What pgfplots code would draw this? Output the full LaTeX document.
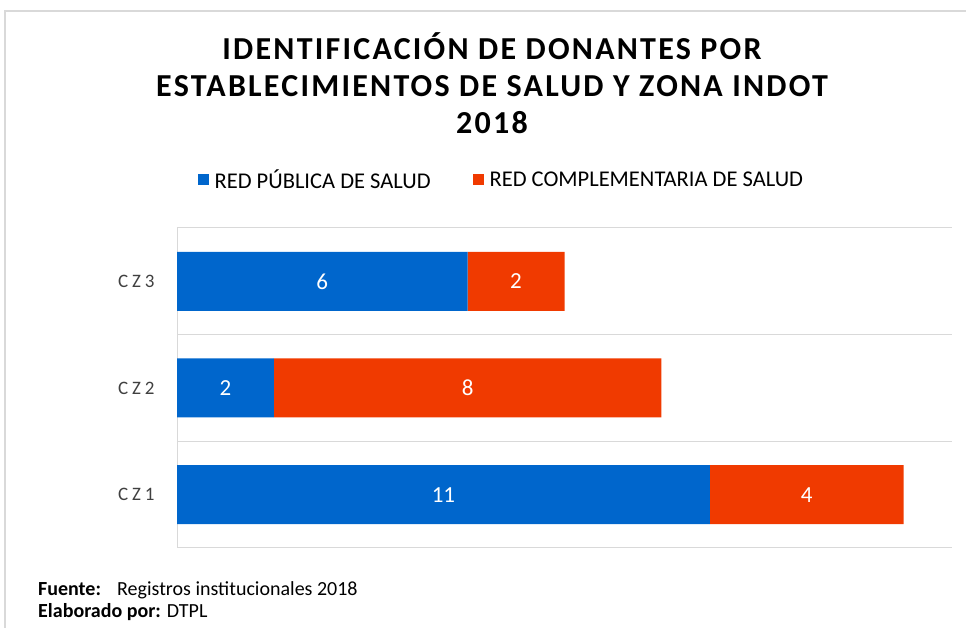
\documentclass[border=0pt]{standalone}
\usepackage{pgfplots}
\pgfplotsset{compat=1.18}
\usepackage{pgfplotstable}
\usepackage{fontspec}
\setmainfont{Carlito}
\definecolor{cblue}{RGB}{0,102,204}
\definecolor{corange}{RGB}{240,58,0}
\definecolor{gridgray}{RGB}{217,217,217}
\definecolor{labgray}{RGB}{64,64,64}

% values per zone: y = 0 (CZ1), 1 (CZ2), 2 (CZ3)
\pgfplotstableread{
y v
0 11
1 2
2 6
}\publica
\pgfplotstableread{
y v
0 4
1 8
2 2
}\complementaria
% label positions (centre of each segment) and label text
\pgfplotstableread{
x y lab
5.5 0 11
1 1 2
3 2 6
13 0 4
6 1 8
7 2 2
}\labels

\pgfplotsset{common/.style={
  at={(177pt,80pt)}, anchor=south west, scale only axis,
  width=775pt, height=320pt,
  xmin=0, xmax=16, ymin=-0.5, ymax=2.5,
}}

\begin{document}
\begin{tikzpicture}[x=1pt,y=1pt]
\path[use as bounding box] (0,0) rectangle (966,628);
\draw[gridgray, line width=1.5pt] (5,0) -- (5,617) -- (966,617);
\begin{scope}[font=\fontsize{32}{36}\selectfont\bfseries\addfontfeatures{LetterSpace=7}]
\node[anchor=base] at (492,568) {IDENTIFICACIÓN DE DONANTES POR};
\node[anchor=base] at (492,531) {ESTABLECIMIENTOS DE SALUD Y ZONA INDOT};
\node[anchor=base] at (492,494) {2018};
\end{scope}
\node[anchor=base west, inner sep=0pt, font=\fontsize{20}{24}\selectfont\bfseries] at (38,32) {Fuente:};
\node[anchor=base west, inner sep=0pt, font=\fontsize{20}{24}\selectfont] at (117,32) {Registros institucionales 2018};
\node[anchor=base west, inner sep=0pt, font=\fontsize{20}{24}\selectfont] at (38,10) {\textbf{Elaborado por:} DTPL};
\begin{axis}[
  common,
  xbar stacked, bar width=59pt,
  axis x line=none, axis y line*=left,
  y axis line style={gridgray, line width=1pt, -},
  ytick={0,1,2}, yticklabels={CZ1,CZ2,CZ3},
  major tick length=0pt,
  yticklabel style={font=\fontsize{19}{22}\selectfont\addfontfeatures{LetterSpace=20}, text=labgray, xshift=-19pt},
  extra y ticks={-0.5,0.5,1.5,2.5}, extra y tick labels={},
  extra y tick style={grid=major, major grid style={gridgray, line width=1pt}},
  legend columns=2,
  legend style={draw=none, fill=none, at={(axis description cs:0.4185,1.15)}, anchor=center,
    font=\fontsize{22.5}{26}\selectfont, text=black,
    /tikz/every even column/.append style={column sep=40pt},
    /tikz/every odd column/.append style={column sep=4pt}},
  legend image code/.code={\fill[#1] (0pt,-5.5pt) rectangle (11pt,5.5pt);},
]
\addplot[fill=cblue, draw=none] table[x=v, y=y] {\publica};
\addlegendentry{RED PÚBLICA DE SALUD}
\addplot[fill=corange, draw=none] table[x=v, y=y] {\complementaria};
\addlegendentry{RED COMPLEMENTARIA DE SALUD}
\end{axis}
\begin{axis}[common, hide axis]
\addplot[only marks, mark=none, nodes near coords, point meta=explicit symbolic,
  every node near coord/.style={anchor=center, text=white, font=\fontsize{23}{26}\selectfont}]
  table[x=x, y=y, meta=lab] {\labels};
\end{axis}
\end{tikzpicture}
\end{document}
